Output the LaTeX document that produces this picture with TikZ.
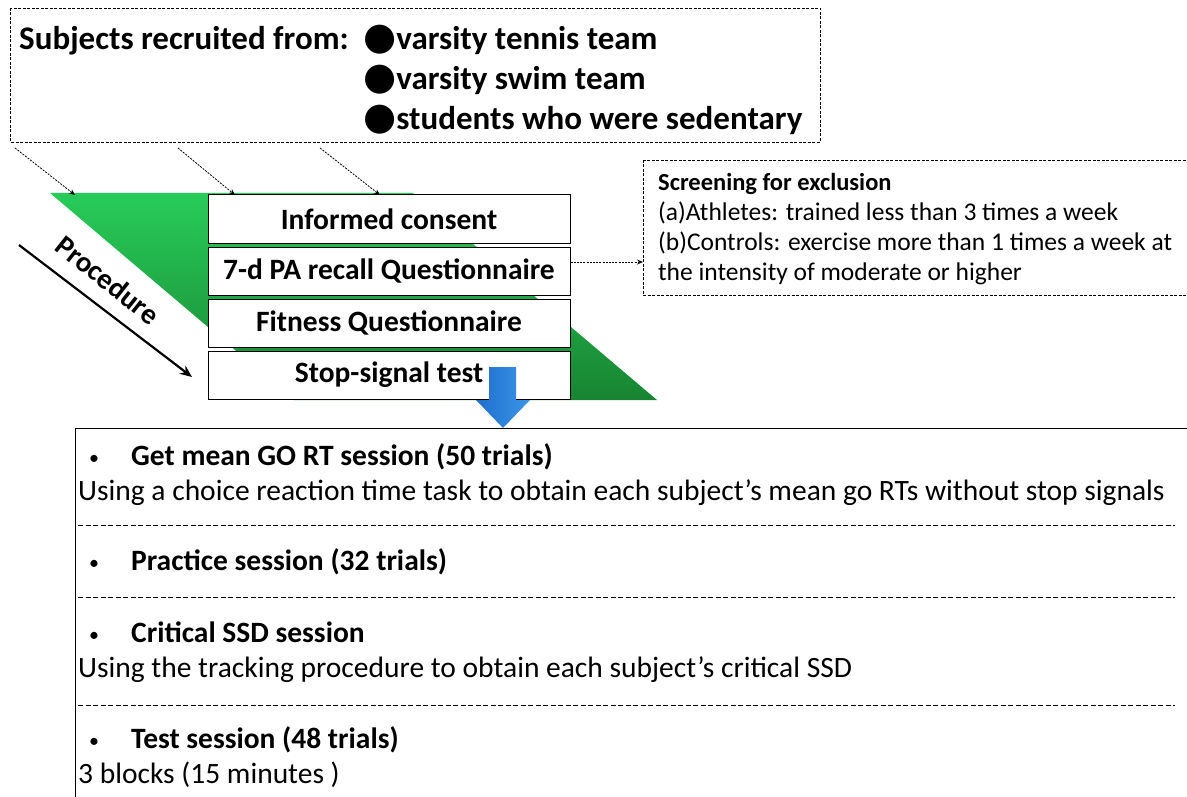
\documentclass[tikz,border=0pt]{standalone}
\usepackage{fontspec}
\setmainfont{Carlito}
\newfontfamily\sym{DejaVu Sans}
\usetikzlibrary{arrows.meta}
\definecolor{gtop}{RGB}{40,204,90}
\definecolor{gbot}{RGB}{24,132,50}
\definecolor{btop}{RGB}{30,110,205}
\definecolor{bbot}{RGB}{60,150,230}
\tikzset{
  dbox/.style={draw=black, dashed, line width=0.9pt, dash pattern=on 3pt off 1.5pt},
  stepbox/.style={draw=black, fill=white, line width=1pt, minimum width=362pt, minimum height=48pt, font=\fontsize{29.5}{32}\selectfont\bfseries},
  darr/.style={draw=black, line width=0.8pt, dash pattern=on 2pt off 1.2pt, -{Stealth[length=6pt,width=5pt]}},
  tline/.style={anchor=base west, inner sep=0pt},
  toptext/.style={tline, font=\fontsize{33}{36}\selectfont\bfseries},
  scrtext/.style={tline, font=\fontsize{25.5}{28}\selectfont},
  bigtext/.style={tline, font=\fontsize{29.5}{32}\selectfont},
  sep/.style={draw=black, line width=1pt, dash pattern=on 5pt off 2.5pt}
}
\begin{document}
\begin{tikzpicture}[x=1pt,y=-1pt]
\clip (0,0) rectangle (1187,797);
\fill[white] (0,0) rectangle (1187,797);
% top box
\draw[dbox] (10,8) rectangle (820,142);
\node[toptext] (subj) at (19,50) {Subjects recruited from:};
\node[toptext] (b1) at (363,50) {{\sym\fontsize{38}{38}\selectfont ●}varsity tennis team};
\node[toptext] (b2) at (363,90) {{\sym\fontsize{38}{38}\selectfont ●}varsity swim team};
\node[toptext] (b3) at (363,130) {{\sym\fontsize{38}{38}\selectfont ●}students who were sedentary};
% green parallelogram
\shade[top color=gtop, bottom color=gbot] (50,193) -- (413,193) -- (657,400) -- (294,400) -- cycle;
% dashed arrows
\coordinate (s1) at (15,148); \coordinate (e1) at (75,195);
\coordinate (s2) at (178,148); \coordinate (e2) at (235,195);
\coordinate (s3) at (320,148); \coordinate (e3) at (380,195);
\draw[darr] (s1) -- (e1);
\draw[darr] (s2) -- (e2);
\draw[darr] (s3) -- (e3);
% step boxes
\node[stepbox] (ic) at (389,219) {Informed consent};
\node[stepbox] (pa) at (389,271) {7-d PA recall Questionnaire};
\node[stepbox] (fq) at (389,323) {Fitness Questionnaire};
\node[stepbox] (ss) at (389,375) {Stop-signal test};
% procedure arrow
\coordinate (p1) at (19,245); \coordinate (p2) at (192,377);
\draw[line width=2.2pt, -{Stealth[length=12pt,width=10pt]}] (p1) -- (p2);
\node[rotate=-38.5, inner sep=0pt, font=\fontsize{29}{30}\selectfont\bfseries] (proc) at (108,280) {Procedure};
% screening box
\draw[dbox] (643,160) rectangle (1200,295);
\node[tline, font=\fontsize{24.5}{28}\selectfont\bfseries] (scr) at (658,190) {Screening for exclusion};
\node[scrtext] (sa) at (658,221) {(a)Athletes: trained less than 3 times a week};
\node[scrtext] (sb) at (658,251) {(b)Controls: exercise more than 1 times a week at};
\node[scrtext] (sc) at (658,280) {the intensity of moderate or higher};
\coordinate (scin) at (643,262);
\draw[darr] (pa.east |- scin) -- (scin);
% big box
\draw[line width=1pt] (75,428) rectangle (1200,810);
% blue arrow
\shade[left color=btop, right color=bbot] (489,367) -- (516,367) -- (516,400) -- (530,400) -- (503,428) -- (476,400) -- (489,400) -- cycle;
\node[tline, font=\fontsize{20}{24}\selectfont] (d1) at (89,464) {•};
\node[bigtext, font=\fontsize{29.5}{32}\selectfont\bfseries] (t1) at (131,465) {Get mean GO RT session (50 trials)};
\node[bigtext] (u1) at (78,500) {Using a choice reaction time task to obtain each subject’s mean go RTs without stop signals};
\draw[sep] (78,525) -- (1175,525);
\node[tline, font=\fontsize{20}{24}\selectfont] (d2) at (89,569) {•};
\node[bigtext, font=\fontsize{29.5}{32}\selectfont\bfseries] (t2) at (131,570) {Practice session (32 trials)};
\draw[sep] (78,597) -- (1175,597);
\node[tline, font=\fontsize{20}{24}\selectfont] (d3) at (89,641) {•};
\node[bigtext, font=\fontsize{29.5}{32}\selectfont\bfseries] (t3) at (131,642) {Critical SSD session};
\node[bigtext] (u3) at (78,677) {Using the tracking procedure to obtain each subject’s critical SSD};
\draw[sep] (78,705) -- (1175,705);
\node[tline, font=\fontsize{20}{24}\selectfont] (d4) at (89,747) {•};
\node[bigtext, font=\fontsize{29.5}{32}\selectfont\bfseries] (t4) at (131,748) {Test session (48 trials)};
\node[bigtext] (u4) at (78,783) {3 blocks (15 minutes )};
\end{tikzpicture}
\end{document}
